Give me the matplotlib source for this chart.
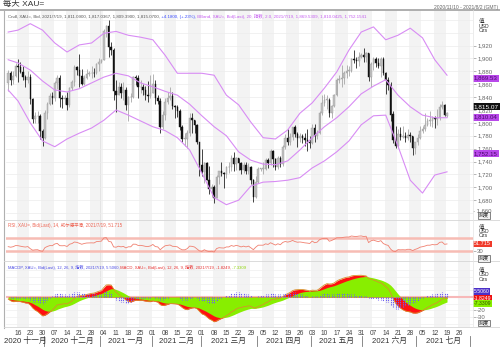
import numpy as np
import pandas as pd
import matplotlib
matplotlib.use("Agg")
import matplotlib.pyplot as plt
from matplotlib.lines import Line2D
from matplotlib.transforms import blended_transform_factory

plt.rcParams['font.family'] = ['Liberation Sans', 'Noto Sans CJK SC']

# ---------------- data ----------------
dates = pd.bdate_range('2020-11-10', '2021-07-19')

opens = [1862, 1877, 1866, 1873,
         1889, 1887, 1879, 1871, 1866,
         1871, 1837, 1806, 1810, 1811,
         1788, 1776, 1815, 1830, 1841,
         1839, 1862, 1870, 1839, 1837,
         1839, 1827, 1854, 1863, 1886,
         1882, 1872, 1860, 1870, 1876,
         1877, 1878, 1877, 1892, 1895,
         1897, 1943, 1950, 1918, 1913,
         1849, 1844, 1856, 1846, 1851,
         1828, 1840, 1840, 1871, 1870,
         1855, 1856, 1851, 1844, 1842,
         1847, 1861, 1838, 1834, 1793,
         1813, 1833, 1838, 1842, 1826,
         1824, 1819, 1794, 1775, 1775,
         1784, 1808, 1805, 1797, 1770,
         1734, 1723, 1738, 1712, 1697,
         1700, 1683, 1716, 1726, 1722,
         1720, 1731, 1731, 1745, 1736,
         1745, 1738, 1727, 1734, 1725,
         1732, 1712, 1685, 1708, 1729,
         1729, 1729, 1743, 1737, 1756,
         1744, 1732, 1746, 1736, 1763,
         1776, 1770, 1778, 1793, 1783,
         1777, 1780, 1777, 1773, 1771,
         1768, 1792, 1779, 1785, 1815,
         1831, 1836, 1836, 1815, 1826,
         1843, 1867, 1868, 1869, 1877,
         1881, 1881, 1899, 1897, 1896,
         1903, 1906, 1903, 1908, 1871,
         1891, 1899, 1893, 1888, 1899,
         1877, 1866, 1859, 1813, 1774,
         1764, 1782, 1778, 1779, 1776,
         1781, 1779, 1761, 1770, 1776,
         1787, 1791, 1796, 1803, 1803,
         1808, 1806, 1808, 1825, 1828,
         1811.09]

highs = [1882, 1881, 1880, 1893,
         1899, 1895, 1888, 1875, 1881,
         1876, 1839, 1817, 1818, 1814,
         1790, 1820, 1833, 1846, 1848,
         1865, 1875, 1875, 1843, 1844,
         1848, 1856, 1867, 1890, 1888,
         1907, 1884, 1875, 1883, 1880,
         1889, 1885, 1893, 1900, 1899,
         1945, 1952, 1959, 1926, 1917,
         1867, 1864, 1862, 1863, 1855,
         1841, 1846, 1872, 1875, 1874,
         1867, 1860, 1858, 1865, 1874,
         1876, 1866, 1843, 1838, 1818,
         1838, 1848, 1855, 1848, 1827,
         1827, 1822, 1797, 1785, 1789,
         1815, 1816, 1805, 1799, 1771,
         1760, 1740, 1740, 1733, 1705,
         1703, 1719, 1723, 1739, 1723,
         1733, 1740, 1750, 1755, 1747,
         1746, 1740, 1740, 1740, 1737,
         1733, 1713, 1718, 1732, 1730,
         1739, 1746, 1745, 1759, 1758,
         1745, 1748, 1748, 1765, 1783,
         1790, 1785, 1794, 1797, 1786,
         1785, 1782, 1785, 1790, 1780,
         1799, 1798, 1789, 1818, 1843,
         1845, 1843, 1838, 1828, 1845,
         1869, 1875, 1890, 1880, 1890,
         1889, 1900, 1913, 1902, 1910,
         1908, 1916, 1910, 1909, 1894,
         1903, 1903, 1900, 1903, 1902,
         1879, 1871, 1864, 1818, 1795,
         1790, 1794, 1795, 1786, 1790,
         1786, 1780, 1771, 1783, 1795,
         1795, 1815, 1808, 1818, 1810,
         1810, 1822, 1829, 1834, 1829,
         1817.04]

lows = [1850, 1859, 1861, 1871,
        1863, 1877, 1867, 1855, 1862,
        1830, 1800, 1800, 1800, 1775,
        1764, 1775, 1806, 1827, 1829,
        1834, 1852, 1825, 1823, 1830,
        1820, 1825, 1851, 1857, 1875,
        1855, 1859, 1859, 1868, 1873,
        1870, 1871, 1876, 1881, 1893,
        1897, 1934, 1902, 1906, 1836,
        1817, 1843, 1838, 1835, 1820,
        1803, 1833, 1838, 1859, 1838,
        1846, 1844, 1835, 1832, 1838,
        1847, 1830, 1830, 1785, 1791,
        1804, 1830, 1835, 1822, 1808,
        1809, 1789, 1770, 1764, 1761,
        1780, 1785, 1784, 1767, 1717,
        1717, 1706, 1711, 1690, 1687,
        1676, 1683, 1705, 1718, 1699,
        1714, 1722, 1725, 1726, 1727,
        1727, 1721, 1722, 1720, 1721,
        1705, 1677, 1683, 1706, 1725,
        1720, 1727, 1730, 1735, 1731,
        1727, 1728, 1731, 1733, 1759,
        1765, 1766, 1774, 1778, 1763,
        1771, 1768, 1764, 1756, 1761,
        1767, 1771, 1775, 1783, 1812,
        1826, 1822, 1809, 1808, 1824,
        1841, 1862, 1855, 1861, 1869,
        1873, 1879, 1893, 1885, 1889,
        1900, 1894, 1895, 1865, 1855,
        1882, 1887, 1885, 1871, 1875,
        1845, 1851, 1803, 1768, 1761,
        1761, 1773, 1776, 1770, 1773,
        1770, 1750, 1751, 1765, 1775,
        1784, 1787, 1795, 1795, 1794,
        1792, 1797, 1805, 1822, 1810,
        1809.39]

closes = [1877, 1866, 1873, 1889,
          1887, 1879, 1871, 1866, 1871,
          1837, 1806, 1810, 1811, 1788,
          1776, 1815, 1830, 1841, 1839,
          1862, 1870, 1839, 1837, 1839,
          1827, 1854, 1863, 1886, 1882,
          1872, 1860, 1870, 1876, 1877,
          1878, 1877, 1892, 1895, 1897,
          1943, 1950, 1918, 1913, 1849,
          1844, 1856, 1846, 1851, 1828,
          1840, 1840, 1871, 1870, 1855,
          1856, 1851, 1844, 1842, 1847,
          1861, 1838, 1834, 1793, 1813,
          1833, 1838, 1842, 1826, 1824,
          1819, 1794, 1775, 1775, 1784,
          1808, 1805, 1797, 1770, 1734,
          1723, 1738, 1712, 1697, 1700,
          1683, 1716, 1726, 1722, 1720,
          1731, 1731, 1745, 1736, 1745,
          1738, 1727, 1734, 1725, 1732,
          1712, 1685, 1708, 1729, 1729,
          1729, 1743, 1737, 1756, 1744,
          1732, 1746, 1736, 1763, 1776,
          1770, 1778, 1793, 1783, 1777,
          1780, 1777, 1773, 1771, 1768,
          1792, 1779, 1785, 1815, 1831,
          1836, 1836, 1815, 1826, 1843,
          1867, 1868, 1869, 1877, 1881,
          1881, 1899, 1897, 1896, 1903,
          1906, 1903, 1908, 1871, 1891,
          1899, 1893, 1888, 1899, 1877,
          1866, 1859, 1813, 1774, 1764,
          1782, 1778, 1779, 1776, 1781,
          1779, 1761, 1770, 1776, 1787,
          1791, 1796, 1803, 1803, 1808,
          1806, 1808, 1825, 1828, 1812,
          1815.07]

# closes before the visible window (Sep 1 - Nov 9, 2020), used by RSI / MACD
warmup_closes = [1970, 1944, 1931, 1934, 1928, 1930, 1947, 1946, 1940,
                 1956, 1955, 1960, 1944, 1950, 1912, 1900, 1863, 1868,
                 1861, 1881, 1898, 1886, 1906, 1899, 1913, 1877, 1887,
                 1893, 1930, 1922, 1892, 1902, 1908, 1899, 1905, 1907,
                 1924, 1904, 1902, 1902, 1908, 1877, 1868, 1879, 1894,
                 1909, 1903, 1949, 1951, 1862]

# Bollinger band (20, 2.0), weekly
band_dates = ['2020-11-10', '2020-11-16', '2020-11-23', '2020-11-30', '2020-12-07',
              '2020-12-14', '2020-12-21', '2020-12-28', '2021-01-04', '2021-01-11',
              '2021-01-18', '2021-01-25', '2021-02-01', '2021-02-08', '2021-02-15',
              '2021-02-22', '2021-03-01', '2021-03-08', '2021-03-15', '2021-03-22',
              '2021-03-29', '2021-04-05', '2021-04-12', '2021-04-19', '2021-04-26',
              '2021-05-03', '2021-05-10', '2021-05-17', '2021-05-24', '2021-05-31',
              '2021-06-07', '2021-06-14', '2021-06-21', '2021-06-28', '2021-07-05',
              '2021-07-12', '2021-07-19']
bb_upper = [1941, 1944, 1954, 1944, 1924, 1910, 1921, 1924, 1939, 1942,
            1936, 1933, 1929, 1905, 1877, 1877, 1877, 1874, 1843, 1828,
            1801, 1777, 1775, 1789, 1815, 1831, 1854, 1879, 1913, 1941,
            1949, 1929, 1936, 1947, 1932, 1898, 1874]
bb_mid = [1898, 1893, 1882, 1865, 1851, 1848, 1853, 1862, 1871, 1877,
          1873, 1862, 1856, 1849, 1843, 1829, 1811, 1794, 1780, 1755,
          1742, 1736, 1735, 1741, 1758, 1777, 1794, 1808, 1825, 1845,
          1857, 1867, 1843, 1825, 1812, 1808, 1808]
bb_lower = [1851, 1834, 1800, 1772, 1763, 1775, 1784, 1792, 1804, 1820,
            1812, 1803, 1794, 1788, 1777, 1758, 1722, 1684, 1673, 1680,
            1702, 1708, 1709, 1711, 1715, 1730, 1741, 1755, 1772, 1797,
            1811, 1812, 1764, 1711, 1691, 1719, 1724]

price_ticks = [1680, 1700, 1720, 1740, 1760, 1780, 1800, 1820, 1840,
               1860, 1880, 1900, 1920]
month_names = ['2020 十一月', '2020 十二月', '2021 一月', '2021 二月', '2021 三月',
               '2021 四月', '2021 五月', '2021 六月', '2021 七月']

# ---------------- indicators ----------------
allc = pd.Series(warmup_closes + closes, dtype=float)
ema12 = allc.ewm(span=12, adjust=False).mean()
ema26 = allc.ewm(span=26, adjust=False).mean()
macd_all = ema12 - ema26
sig_all = macd_all.ewm(span=9, adjust=False).mean()
n = len(closes)
macd = macd_all.values[-n:]
signal = sig_all.values[-n:]
hist = macd - signal
d = allc.diff()
gain = d.clip(lower=0).ewm(alpha=1/14, adjust=False).mean()
loss = (-d.clip(upper=0)).ewm(alpha=1/14, adjust=False).mean()
rsi = (100 - 100 / (1 + gain / loss)).values[-n:]

# ---------------- layout ----------------
W, H = 500, 351
fig = plt.figure(figsize=(W / 100, H / 100), dpi=100)


def rect(x0, y0, x1, y1):
    return [x0 / W, 1 - y1 / H, (x1 - x0) / W, (y1 - y0) / H]


ax = fig.add_axes(rect(6, 9.5, 473, 219.5))
ax_rsi = fig.add_axes(rect(6, 219.5, 473, 261), sharex=ax)
ax_m = fig.add_axes(rect(6, 261, 473, 327), sharex=ax)

ext = pd.bdate_range('2020-11-10', '2021-08-02')
x = np.arange(n)
xl = (-0.9, 189.6)

for a in (ax, ax_rsi, ax_m):
    a.set_facecolor('white')
    for s in a.spines.values():
        s.set_visible(False)
    for k, i in enumerate(range(4, 190, 5)):
        if k % 2 == 0:
            a.axvspan(i - 0.5, i + 4.5, color='#f3f3f3', lw=0, zorder=0)
    a.axvline(37.5, color='#e2e2e2', lw=0.6, zorder=0.5)
    a.yaxis.tick_right()
    a.tick_params(axis='y', length=2, width=0.5, color='#999999', labelsize=4.3,
                  labelcolor='#666666', pad=1)
    a.tick_params(axis='x', length=0)
    a.set_xlim(*xl)

# --- main price panel
ax.set_ylim(1650, 1976)
for p in range(1660, 1980, 20):
    ax.axhline(p, color='#ececec', lw=0.5, zorder=0.6)
ax.set_yticks(price_ticks)
ax.set_yticklabels([f'{v:,}' for v in price_ticks])
ax.text(1.0, 1660, '- 1,660', transform=blended_transform_factory(ax.transAxes, ax.transData),
        ha='left', va='bottom', fontsize=4.3, color='#666666')

o = np.array(opens); h = np.array(highs); l = np.array(lows); c = np.array(closes)
up = c >= o
ax.vlines(x[up], l[up], h[up], color='#a0a0a0', lw=0.55, zorder=2)
ax.vlines(x[~up], l[~up], h[~up], color='#111111', lw=0.55, zorder=2)
body_b = np.minimum(o, c)
body_h = np.maximum(np.abs(c - o), 0.8)
ax.bar(x[up], body_h[up], bottom=body_b[up], width=0.62, color='#c2c2c2',
       edgecolor='#9a9a9a', lw=0.3, zorder=3)
ax.bar(x[~up], body_h[~up], bottom=body_b[~up], width=0.62, color='#111111',
       edgecolor='#111111', lw=0.3, zorder=3)

bx = ext.get_indexer(pd.to_datetime(band_dates))
for band in (bb_upper, bb_mid, bb_lower):
    ax.plot(bx, band, color='#d88cf4', lw=0.8, zorder=4)

# --- RSI panel
ax_rsi.set_ylim(-3.2, 130.6)
ax_rsi.axhline(70, color='#f7bcb4', lw=1.8, zorder=1)
ax_rsi.axhline(30, color='#f7bcb4', lw=1.8, zorder=1)
ax_rsi.plot(x, rsi, color='#f08070', lw=0.6, zorder=3)
ax_rsi.set_yticks([30])
ax_rsi.set_yticklabels(['30'])

# --- MACD panel
ax_m.set_ylim(-44.8, 53.7)
for v in (-40, -30, -20, -10, 10, 20, 30, 40):
    ax_m.axhline(v, color='#efefef', lw=0.5, zorder=0.6)
ax_m.axhline(0, color='#f7b8b8', lw=1.5, zorder=0.7)
ax_m.fill_between(x, 0, macd, color='#ff1010', lw=0, zorder=2)
ax_m.fill_between(x, 0, signal, color='#88ee00', lw=0, zorder=3)
ax_m.plot(x, macd, color='#d8902c', lw=0.6, zorder=4)
ax_m.vlines(x, 0, hist, color='#6f60f0', lw=0.8, linestyles=(0, (1.2, 0.8)), zorder=5)
ax_m.set_yticks([-30, -20])
ax_m.set_yticklabels(['-30', '-20'])

# x axis labels
mondays = [i for i, dd in enumerate(ext) if dd.weekday() == 0 and 4 <= i <= 185]
for a in (ax, ax_rsi):
    a.tick_params(axis='x', labelbottom=False)
ax_m.set_xticks(mondays)
ax_m.set_xticklabels([f'{ext[i].day:02d}' for i in mondays])
ax_m.tick_params(axis='x', labelsize=4.8, labelcolor='#444444', pad=2.5)
ax_m.set_xlim(*xl)

bounds = [-0.9]
for i in range(1, len(ext)):
    if ext[i].month != ext[i - 1].month:
        bounds.append(i - 0.5)
tr = blended_transform_factory(ax_m.transData, fig.transFigure)
for k, name in enumerate(month_names):
    cx = (bounds[k] + bounds[k + 1]) / 2
    fig.text(cx, 1 - 341 / H, name, transform=tr, ha='center', va='center',
             fontsize=5.6, color='#333333')
for b in bounds[1:]:
    fig.add_artist(Line2D([b, b], [1 - 336 / H, 1 - 346 / H], transform=tr,
                          color='#777777', lw=0.6))

# ---------------- texts ----------------
fig.text(3 / W, 1 - 4 / H, '每天 XAU=', fontsize=6, color='#333333', va='center', ha='left')
fig.text(498 / W, 1 - 7 / H, '2020/11/10 - 2021/8/2 (GMT)', fontsize=3.6, color='#666666',
         va='center', ha='right')
fig.add_artist(Line2D([0, 1], [1 - 9.5 / H] * 2, color='#a8a8a8', lw=1.3))
fig.add_artist(Line2D([4 / W, 4 / W], [1 - 9.5 / H, 1 - 328 / H], color='#b0b0b0', lw=0.8))
for yy in (219.5, 261, 327):
    fig.add_artist(Line2D([4 / W, 1], [1 - yy / H] * 2, color='#d6d6d6', lw=0.6))
fig.add_artist(Line2D([473 / W, 473 / W], [1 - 9.5 / H, 1 - 327 / H], color='#e4e4e4', lw=0.5))


def chain(a, x0, y0, parts, fs):
    t = a.text(x0, y0, parts[0][0], color=parts[0][1], fontsize=fs,
               transform=a.transAxes, ha='left', va='bottom', zorder=12)
    for s, col in parts[1:]:
        t = a.annotate(s, xy=(1, 0), xycoords=t, ha='left', va='bottom',
                       color=col, fontsize=fs, zorder=12)
    return t


chain(ax, 0.004, 0.955, [
    ('Cndl, XAU=, Bid, 2021/7/19, 1,811.0900, 1,817.0367, 1,809.3900, 1,815.0700,', '#555555'),
    (' +4.1800, (+.23%),', '#3a4cff'),
    (' BBand, XAU=, Bid(Last), 20, 指数, 2.0, 2021/7/19, 1,869.5309, 1,810.0425, 1,752.1541',
     '#c55cf0')], fs=3.2)
chain(ax_rsi, 0.004, 0.80, [
    ('RSI, XAU=, Bid(Last), 14, 威尔德平滑, 2021/7/19, 51.715', '#ee6655')], fs=3.25)
chain(ax_m, 0.004, 0.86, [
    ('MACDP, XAU=, Bid(Last), 12, 26, 9, 指数, 2021/7/19, 5.5060,', '#4a4ae6'),
    (' MACD, XAU=, Bid(Last), 12, 26, 9, 指数, 2021/7/19, -1.8249,', '#e83030'),
    (' -7.3309', '#8ad400')], fs=3.0)


def rlabel(a, yv, s, fc, tc, dy=0.0, fs=4.4):
    a.annotate(s, xy=(1, yv), xycoords=('axes fraction', 'data'), xytext=(0.6, dy),
               textcoords='offset points', ha='left', va='center', fontsize=fs,
               color=tc, annotation_clip=False, zorder=20,
               bbox=dict(boxstyle='square,pad=0.15', fc=fc, ec='none'))


rlabel(ax, 1869.53, '1,869.53', '#b848ea', '#4a0a6a')
rlabel(ax, 1815.07, '1,815.07', '#111111', 'white', dy=4.6, fs=4.6)
rlabel(ax, 1810.04, '1,810.04', '#b848ea', '#4a0a6a', dy=-0.6)
rlabel(ax, 1752.15, '1,752.15', '#b848ea', '#4a0a6a')
rlabel(ax_rsi, 51.715, '51.715', '#f03a2a', 'white', fs=4.0)
rlabel(ax_m, 5.506, '5.5060', '#4b2fc8', 'white', dy=1.2, fs=3.7)
rlabel(ax_m, -1.8249, '-1.8249', '#ee1111', 'white', fs=3.7)
rlabel(ax_m, -7.3309, '-7.3309', '#88ee00', '#335500', dy=-1.0, fs=3.7)

for yy, sp in ((21, 5.0), (227, 4.3), (270, 4.6)):
    fig.text(479 / W, 1 - yy / H, '值', fontsize=4.0, color='#333333', ha='left', va='center')
    fig.text(479 / W, 1 - (yy + sp) / H, 'USD', fontsize=3.7, color='#333333', ha='left', va='center')
    fig.text(479 / W, 1 - (yy + 2 * sp) / H, 'Ozs', fontsize=3.7, color='#333333', ha='left', va='center')
for yy in (215.5, 258.5, 323):
    fig.text(479 / W, 1 - yy / H, '刻度', fontsize=3.7, color='#333333', ha='left', va='center',
             bbox=dict(boxstyle='square,pad=0.1', fc='#f2f2f2', ec='#555555', lw=0.5))

fig.savefig('out.png', dpi=100)
